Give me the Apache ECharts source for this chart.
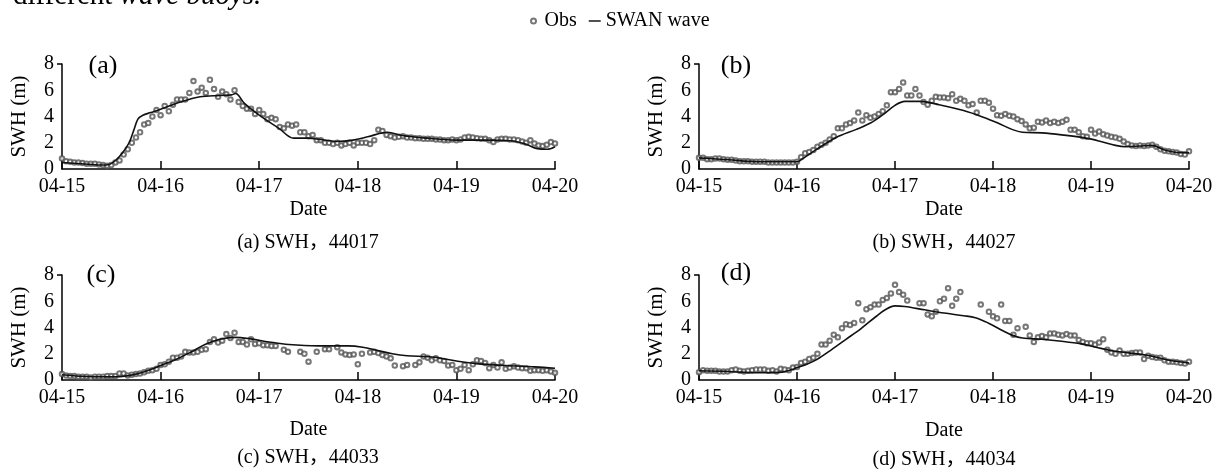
<!DOCTYPE html>
<html>
<head>
<meta charset="utf-8">
<script src="https://cdn.jsdelivr.net/npm/echarts@6/dist/echarts.min.js"></script>
<style>
  html, body { margin: 0; padding: 0; background: #fff; }
  #chart { width: 1217px; height: 469px; }
</style>
</head>
<body>
<div id="chart"></div>
<script>
// ---- tick labels ----
const xTickLabels = ['04-15', '04-16', '04-17', '04-18', '04-19', '04-20'];
const panelLetters = ['(a)', '(b)', '(c)', '(d)'];
const panelCaptions = ['(a) SWH，44017', '(b) SWH，44027', '(c) SWH，44033', '(d) SWH，44034'];

// ---- observations: hourly from 04-15 00:00 (null = missing) ----
const obsA = [0.8,0.6,0.55,0.5,0.5,0.45,0.4,0.4,0.4,0.35,
  0.3,0.25,0.3,0.5,0.65,1.1,1.5,2.0,2.4,2.8,
  3.4,3.5,4.0,4.5,4.1,4.8,4.4,4.9,5.3,5.3,
  5.3,5.8,6.7,5.9,6.2,5.8,6.8,6.1,5.5,5.9,
  5.7,5.3,6.0,5.1,4.8,4.6,4.6,4.2,4.5,4.2,
  3.8,3.9,3.8,3.2,3.1,3.4,3.3,3.4,2.8,2.8,
  2.5,2.6,2.2,2.2,2.0,2.0,1.9,2.0,1.8,1.9,
  2.0,1.8,2.0,2.0,2.0,1.9,2.2,3.0,2.9,2.6,
  2.5,2.4,2.45,2.5,2.4,2.4,2.35,2.35,2.3,2.3,
  2.3,2.25,2.25,2.2,2.2,2.25,2.2,2.25,2.4,2.45,
  2.4,2.35,2.3,2.3,2.2,2.05,2.25,2.3,2.3,2.25,
  2.25,2.2,2.1,2.0,2.2,1.95,1.8,1.75,1.85,2.05,
  1.95];
const obsB = [0.85,0.85,0.75,0.75,0.8,0.8,0.75,0.7,0.7,0.65,
  0.6,0.6,0.6,0.55,0.55,0.55,0.55,0.5,0.5,0.5,
  0.5,0.5,0.5,0.5,0.55,0.9,1.2,1.3,1.45,1.7,
  1.85,2.0,2.25,2.5,3.1,3.1,3.4,3.5,3.7,4.3,
  3.7,4.1,3.9,4.0,4.2,4.4,4.85,5.85,5.85,6.1,
  6.6,5.6,5.6,6.1,5.6,5.1,4.9,5.2,5.5,5.45,
  5.45,5.4,5.7,5.2,5.35,5.2,4.85,4.95,4.3,5.2,
  5.2,5.05,4.6,4.1,4.05,4.2,4.05,4.0,3.8,3.65,
  3.4,3.1,3.15,3.6,3.55,3.7,3.5,3.6,3.5,3.6,
  3.75,3.0,3.0,2.8,2.5,2.45,3.0,2.7,2.85,2.65,
  2.55,2.45,2.4,2.3,2.1,1.9,1.8,1.75,1.8,1.75,
  1.8,1.85,1.7,1.5,1.4,1.35,1.3,1.25,1.15,1.1,
  1.35];
const obsC = [0.45,0.35,0.3,0.3,0.25,0.25,0.25,0.2,0.25,0.25,
  0.25,0.3,0.3,0.3,0.5,0.5,0.35,0.4,0.45,0.5,
  0.6,0.7,0.75,0.85,1.15,1.2,1.4,1.7,1.7,1.8,
  2.15,2.1,2.1,2.15,2.3,2.35,2.9,3.1,2.85,3.0,
  3.5,3.2,3.6,2.9,2.9,2.7,3.1,2.75,2.8,2.65,
  2.65,2.6,2.6,null,2.3,2.15,null,null,2.15,2.0,
  1.4,null,2.15,null,2.35,2.35,null,2.5,2.1,1.95,
  1.9,1.95,1.2,2.0,null,2.1,2.15,2.05,1.9,1.8,
  1.65,1.1,null,1.05,1.15,null,1.15,1.35,1.8,1.7,
  1.5,1.65,1.5,1.45,1.1,1.15,0.75,0.85,1.15,0.75,
  1.2,1.5,1.45,1.3,0.9,1.15,0.95,1.35,0.85,0.95,
  1.05,0.95,0.9,0.9,0.7,0.75,0.75,0.7,0.75,0.65,
  0.55];
const obsD = [0.6,0.75,0.7,0.7,0.7,0.65,0.65,0.65,0.75,0.8,
  0.7,0.65,0.7,0.75,0.8,0.8,0.8,0.7,0.75,0.65,
  0.85,0.8,0.75,0.95,1.0,1.3,1.4,1.6,1.7,2.0,
  2.7,2.7,3.0,3.45,3.25,3.95,4.25,4.2,4.35,5.85,
  4.55,5.4,5.55,5.75,5.75,6.1,6.25,6.6,7.25,6.7,
  6.5,6.05,null,null,5.85,5.85,5.0,4.85,5.2,6.0,
  6.2,7.0,5.65,6.2,6.7,null,null,null,null,5.75,
  null,5.2,4.85,4.7,5.75,4.5,4.5,3.45,3.95,null,
  4.05,3.4,2.9,3.25,3.35,3.25,3.55,3.55,3.45,3.4,
  3.5,3.4,3.4,3.05,2.9,2.8,2.8,2.7,2.85,3.1,
  2.3,2.1,2.0,2.25,2.0,2.0,2.05,2.1,2.1,1.6,
  1.85,1.75,1.7,1.7,1.5,1.4,1.4,1.35,1.3,1.25,
  1.4];

// ---- SWAN model: sample times (days after 04-15) and values ----
const swanA_t = [0,0.2,0.4,0.48,0.55,0.62,0.68,0.73,0.77,0.82,0.9,1.0,1.2,1.4,1.6,1.72,1.76,1.85,2.0,2.2,2.35,2.5,2.62,2.78,2.95,3.1,3.3,3.45,3.7,4.0,4.3,4.55,4.7,4.82,4.92,5.0];
const swanA_v = [0.5,0.4,0.3,0.35,0.7,1.3,2.0,3.0,3.8,4.1,4.3,4.55,5.1,5.5,5.6,5.65,5.75,5.0,4.1,3.1,2.35,2.35,2.25,2.1,2.2,2.45,2.8,2.55,2.35,2.2,2.2,2.15,1.9,1.55,1.5,1.7];
const swanB_t = [0,0.3,0.6,1.0,1.05,1.2,1.4,1.6,1.75,1.87,2.0,2.1,2.25,2.45,2.7,2.9,3.05,3.2,3.3,3.5,3.7,3.95,4.1,4.25,4.35,4.5,4.62,4.75,4.9,5.0];
const swanB_v = [0.85,0.7,0.55,0.55,0.75,1.5,2.4,3.0,3.5,4.1,4.85,5.15,5.15,4.9,4.45,3.95,3.5,3.0,2.8,2.75,2.6,2.35,2.1,1.8,1.7,1.75,1.8,1.45,1.25,1.25];
const swanC_t = [0,0.3,0.55,0.75,0.9,1.0,1.15,1.3,1.45,1.6,1.75,1.9,2.1,2.3,2.6,2.9,3.05,3.2,3.35,3.5,3.75,4.0,4.2,4.5,4.8,5.0];
const swanC_v = [0.4,0.25,0.25,0.45,0.8,1.1,1.55,2.1,2.7,3.1,3.25,3.15,2.9,2.7,2.6,2.6,2.5,2.25,2.0,1.85,1.75,1.45,1.25,1.1,1.0,0.9];
const swanD_t = [0,0.3,0.6,0.85,0.95,1.0,1.1,1.2,1.35,1.5,1.65,1.8,1.9,2.0,2.1,2.3,2.5,2.7,2.82,2.95,3.1,3.2,3.3,3.5,3.7,3.9,4.05,4.2,4.4,4.6,4.8,5.0];
const swanD_v = [0.7,0.65,0.55,0.6,0.8,0.95,1.2,1.55,2.3,3.1,3.9,4.8,5.35,5.65,5.6,5.35,5.1,4.9,4.75,4.35,3.75,3.4,3.2,3.1,2.95,2.75,2.5,2.25,2.05,1.85,1.5,1.3];

const obsAll = [obsA, obsB, obsC, obsD];
const swanT = [swanA_t, swanB_t, swanC_t, swanD_t];
const swanV = [swanA_v, swanB_v, swanC_v, swanD_v];

const FONT = "'Liberation Serif', 'Noto Sans CJK SC', serif";
const grids = [
  { left: 62, top: 64, width: 493, height: 105 },
  { left: 699, top: 64, width: 490, height: 105 },
  { left: 62, top: 275, width: 493, height: 105 },
  { left: 699, top: 275, width: 490, height: 105 }
];
const dateGap = [31, 31, 40, 41];
const letterPos = [[103, 66], [736, 66], [101, 275], [736, 273]];
const captionPos = [[308, 243], [944, 243], [308, 458], [944, 460]];

const xAxes = [], yAxes = [], series = [], graphics = [];
grids.forEach((g, i) => {
  xAxes.push({
    gridIndex: i, type: 'value', min: 0, max: 5, interval: 1,
    name: 'Date', nameLocation: 'middle', nameGap: dateGap[i],
    nameTextStyle: { fontFamily: FONT, fontSize: 20, color: '#000' },
    axisLine: { lineStyle: { color: '#000', width: 1.5 } },
    axisTick: { inside: true, length: 8, lineStyle: { color: '#000', width: 1.5 } },
    axisLabel: { fontFamily: FONT, fontSize: 20, color: '#000', margin: 8, hideOverlap: false,
      formatter: v => xTickLabels[Math.round(v)] },
    splitLine: { show: false }
  });
  yAxes.push({
    gridIndex: i, type: 'value', min: 0, max: 8, interval: 2,
    name: 'SWH (m)', nameLocation: 'middle', nameGap: 32, nameRotate: 90,
    nameTextStyle: { fontFamily: FONT, fontSize: 21, color: '#000' },
    axisLine: { show: true, lineStyle: { color: '#000', width: 1.5 } },
    axisTick: { show: true, length: 5, customValues: [8], lineStyle: { color: '#000', width: 1.5 } },
    axisLabel: { fontFamily: FONT, fontSize: 20, color: '#000', margin: 8, hideOverlap: false },
    splitLine: { show: false }
  });
  series.push({
    name: 'Obs', type: 'scatter', xAxisIndex: i, yAxisIndex: i,
    symbol: 'emptyCircle', symbolSize: 4.5,
    itemStyle: { color: '#555', borderColor: '#555', borderWidth: 0.9 },
    data: obsAll[i].map((v, h) => v === null ? null : [h / 24, v]).filter(d => d),
    z: 3
  });
  series.push({
    name: 'SWAN wave', type: 'line', xAxisIndex: i, yAxisIndex: i,
    showSymbol: false, symbol: 'none', smooth: 0.35,
    lineStyle: { color: '#111', width: 1.6 },
    data: swanT[i].map((t, k) => [t, swanV[i][k]]),
    z: 4
  });
  graphics.push({
    type: 'text', x: letterPos[i][0], y: letterPos[i][1],
    style: { text: panelLetters[i], font: "26px " + FONT, fill: '#000', align: 'center', verticalAlign: 'middle' }
  });
  graphics.push({
    type: 'text', x: captionPos[i][0], y: captionPos[i][1],
    style: { text: panelCaptions[i], font: "20px " + FONT, fill: '#000', align: 'center', verticalAlign: 'middle' }
  });
});

graphics.push({
  type: 'text', x: 13, y: 11,
  style: {
    text: '{n|different }{i|wave buoys.}',
    verticalAlign: 'bottom',
    rich: {
      n: { fontFamily: FONT, fontSize: 29, fill: '#000', color: '#000' },
      i: { fontFamily: FONT, fontSize: 29, fontStyle: 'italic', fill: '#000', color: '#000' }
    }
  }
});

const chart = echarts.init(document.getElementById('chart'), null, { renderer: 'canvas' });
chart.setOption({
  backgroundColor: '#fff',
  animation: false,
  legend: {
    left: 525, top: 6, itemGap: 12, itemWidth: 12, itemHeight: 5,
    textStyle: { fontFamily: FONT, fontSize: 20, color: '#000' },
    data: [
      { name: 'Obs', icon: 'emptyCircle', itemStyle: { color: '#555', borderColor: '#555', borderWidth: 0.9 } },
      { name: 'SWAN wave', icon: 'path://M0,0 L14,0 L14,1.6 L0,1.6 Z', itemStyle: { color: '#000' } }
    ]
  },
  grid: grids,
  xAxis: xAxes,
  yAxis: yAxes,
  series: series,
  graphic: graphics
});
</script>
</body>
</html>
